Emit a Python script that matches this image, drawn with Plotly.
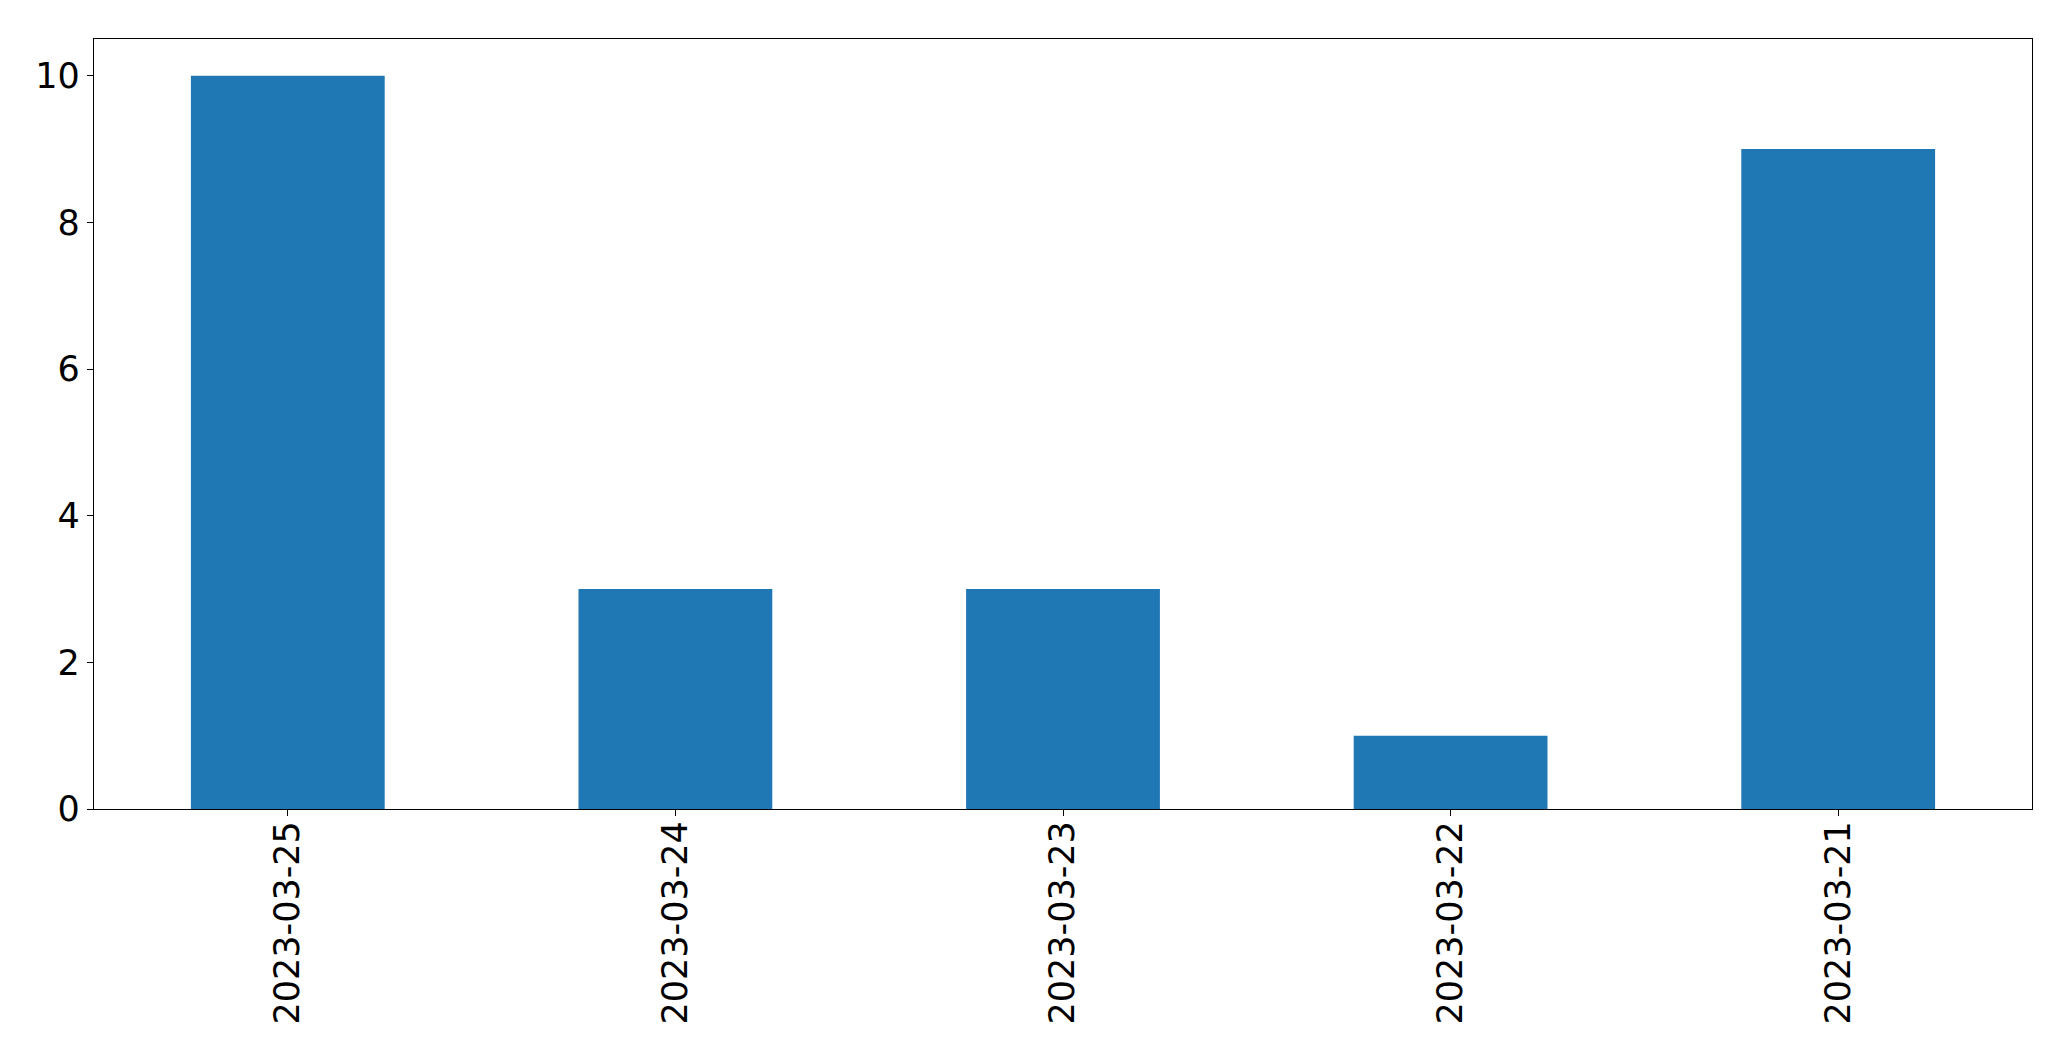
import plotly.graph_objects as go

dates = ["2023-03-25", "2023-03-24", "2023-03-23", "2023-03-22", "2023-03-21"]
counts = [10, 3, 3, 1, 9]

fig = go.Figure(go.Bar(x=dates, y=counts, marker=dict(color="#1f77b4", line=dict(width=0)), width=0.5))

fig.update_layout(
    width=2063, height=1053,
    margin=dict(l=86, r=39, t=31, b=252),
    plot_bgcolor="white", paper_bgcolor="white",
    font=dict(family="DejaVu Sans", size=35, color="black"),
    showlegend=False,
)
fig.update_xaxes(
    type="category", range=[-0.5, 4.5], tickangle=-90,
    showline=True, linecolor="black", linewidth=1.3, mirror=True,
    ticks="outside", ticklen=6, tickcolor="black", tickwidth=1.3,
    showgrid=False, zeroline=False, ticklabelstandoff=-9,
)
fig.update_yaxes(
    range=[0, 10.5], tickvals=[0, 2, 4, 6, 8, 10],
    showline=True, linecolor="black", linewidth=1.3, mirror=True,
    ticks="outside", ticklen=6, tickcolor="black", tickwidth=1.3,
    showgrid=False, zeroline=False,
)
fig.write_html("out.html")
